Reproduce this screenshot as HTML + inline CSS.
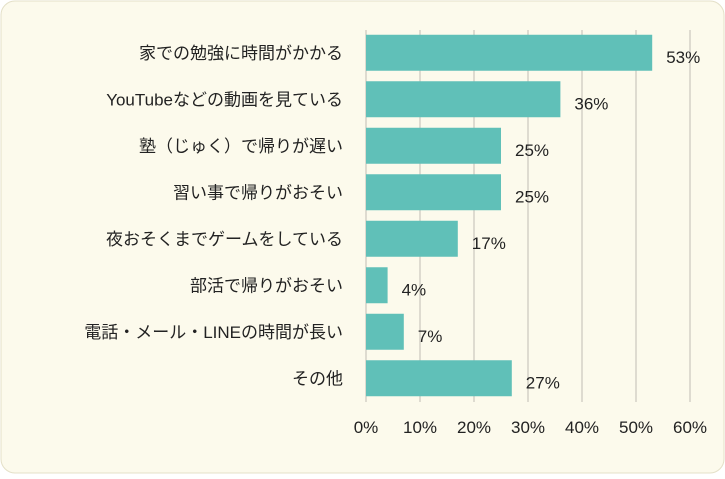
<!DOCTYPE html>
<html><head><meta charset="utf-8"><style>
html,body{margin:0;padding:0;background:#fff}
#c{width:725px;height:474px;position:relative;font-family:"Liberation Sans","Noto Sans CJK JP",sans-serif}
</style></head><body>
<div id="c">
<svg id="s" width="725" height="474">
<rect x="1" y="1" width="723" height="472" rx="14" fill="#fcfaec" stroke="#e4e0c8"/>
</svg>
</div>
<script>
const categories=["家での勉強に時間がかかる","YouTubeなどの動画を見ている","塾（じゅく）で帰りが遅い","習い事で帰りがおそい","夜おそくまでゲームをしている","部活で帰りがおそい","電話・メール・LINEの時間が長い","その他"];
const values=[53,36,25,25,17,4,7,27];
const valueLabels=["53%","36%","25%","25%","17%","4%","7%","27%"];
const ticks=[0,10,20,30,40,50,60];
const tickLabels=["0%","10%","20%","30%","40%","50%","60%"];
const svgEl=document.getElementById('s');const NS='http://www.w3.org/2000/svg';
const x0=366,ppu=5.4,plotTop=30,step=46.5,bh=36;
const xs=v=>x0+v*ppu;const yc=i=>plotTop+step*i+step/2-0.5;
function mk(t,a){const e=document.createElementNS(NS,t);for(const k in a)e.setAttribute(k,a[k]);svgEl.appendChild(e);return e;}
ticks.forEach((t,i)=>{
 const g=mk('line',{x1:xs(t),x2:xs(t),y1:plotTop,y2:402,stroke:'#dedbd0','stroke-width':2});
 
 
 const l=mk('text',{x:xs(t),y:433,'text-anchor':'middle','font-size':17,fill:'#222'});l.textContent=tickLabels[i];
 
 
});
categories.forEach((c,i)=>{
 const y=yc(i);
 const b=mk('rect',{x:x0,y:y-bh/2,width:xs(values[i])-x0,height:bh,fill:'#60c0b8'});
 
 
 const t=mk('text',{x:343,y:y+6,'text-anchor':'end','font-size':17,fill:'#222'});t.textContent=c;
 
 
 const v=mk('text',{x:xs(values[i])+14,y:y+10,'font-size':17,fill:'#222'});v.textContent=valueLabels[i];
 
 
});
</script>
</body></html>
